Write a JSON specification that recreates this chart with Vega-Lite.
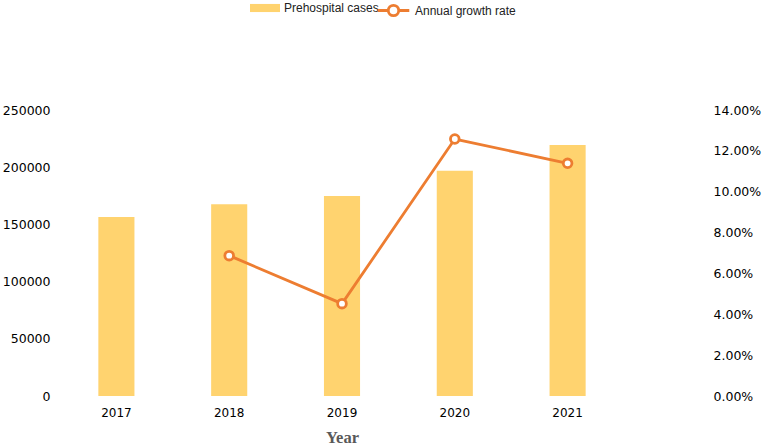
{
  "$schema": "https://vega.github.io/schema/vega-lite/v6.json",
  "width": 564,
  "height": 286,
  "autosize": {"type": "none"},
  "padding": {"left": 60, "top": 110, "right": 138, "bottom": 50},
  "background": "white",
  "config": {
    "view": {"stroke": null},
    "axis": {"grid": false, "ticks": false, "domain": false, "labelFont": "DejaVu Sans", "labelFontSize": 12, "labelColor": "#000000"},
    "legend": {"labelFont": "Liberation Sans", "labelFontSize": 12, "labelColor": "#222222", "padding": 0, "labelOffset": 4}
  },
  "data": {
    "values": [
      {"year": "2017", "cases": 156500, "growth": null},
      {"year": "2018", "cases": 167600, "growth": 0.0687},
      {"year": "2019", "cases": 174800, "growth": 0.0452},
      {"year": "2020", "cases": 196900, "growth": 0.1258},
      {"year": "2021", "cases": 219400, "growth": 0.1139}
    ]
  },
  "encoding": {
    "x": {
      "field": "year",
      "type": "ordinal",
      "scale": {"paddingInner": 0.68, "paddingOuter": 0.34},
      "axis": {"labelAngle": 0, "title": "Year", "titleFont": "Liberation Serif", "titleFontSize": 16.5, "titleFontWeight": "bold", "titleColor": "#595959", "labelPadding": 11, "titlePadding": 11}
    }
  },
  "layer": [
    {
      "mark": {"type": "bar"},
      "encoding": {
        "y": {
          "field": "cases",
          "type": "quantitative",
          "scale": {"domain": [0, 250000]},
          "axis": {"values": [0, 50000, 100000, 150000, 200000, 250000], "format": "d", "title": null, "labelPadding": 10, "labelFontSize": 12.5}
        },
        "color": {
          "datum": "Prehospital cases",
          "scale": {"range": ["#FFD36F"]},
          "legend": {
            "title": null,
            "orient": "none",
            "legendX": 190,
            "legendY": -117,
            "symbolType": "M-1,-0.27L1,-0.27L1,0.27L-1,0.27Z",
            "symbolSize": 900,
            "symbolStrokeWidth": 0
          }
        }
      }
    },
    {
      "encoding": {
        "y": {
          "field": "growth",
          "type": "quantitative",
          "scale": {"domain": [0, 0.14]},
          "axis": {"orient": "right", "format": ".2%", "values": [0, 0.02, 0.04, 0.06, 0.08, 0.1, 0.12, 0.14], "offset": 89, "labelPadding": 0, "title": null, "labelFontSize": 12.5}
        }
      },
      "layer": [
        {
          "mark": {"type": "line", "strokeWidth": 2.8},
          "encoding": {
            "stroke": {
              "datum": "Annual growth rate",
              "scale": {"range": ["#ED7D31"]},
              "legend": {
                "title": null,
                "orient": "none",
                "legendX": 316,
                "legendY": -117,
                "symbolType": "M-1,0L-0.33,0M0.33,0L1,0M-0.33,0A0.33,0.33 0 1,0 0.33,0A0.33,0.33 0 1,0 -0.33,0",
                "symbolSize": 1000,
                "symbolStrokeWidth": 2.8,
                "symbolFillColor": "white"
              }
            }
          }
        },
        {
          "mark": {"type": "point", "filled": true, "fill": "white", "stroke": "#ED7D31", "strokeWidth": 2.8, "size": 75, "opacity": 1}
        }
      ]
    }
  ],
  "resolve": {"scale": {"y": "independent"}}
}
